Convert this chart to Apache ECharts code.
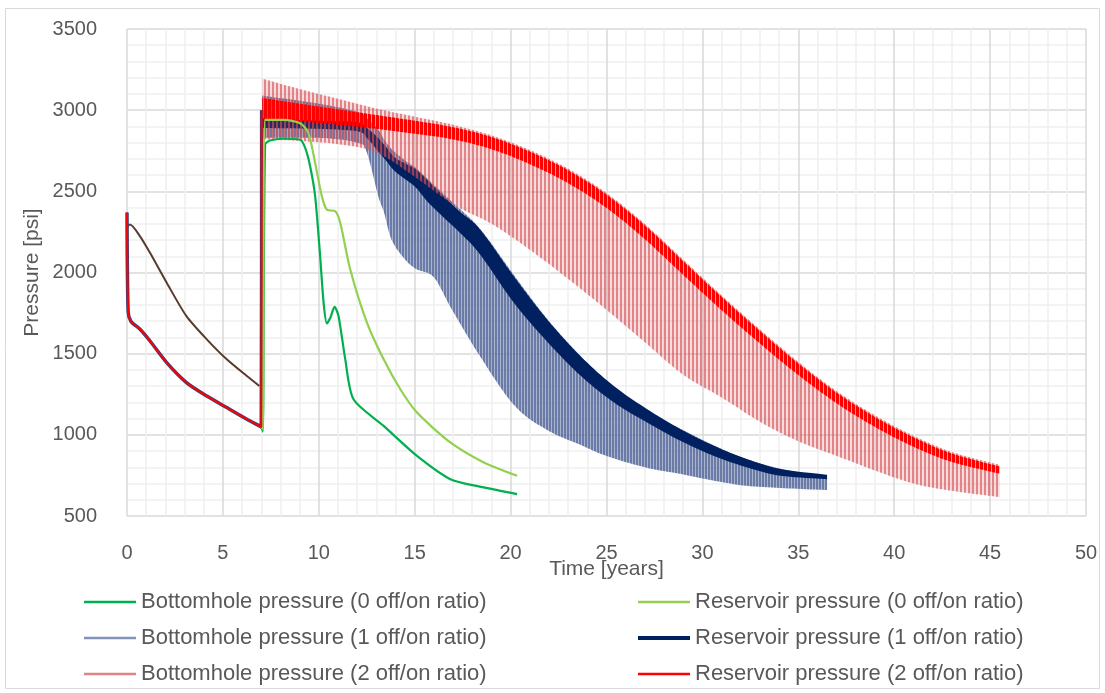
<!DOCTYPE html>
<html><head><meta charset="utf-8">
<script src="https://cdn.jsdelivr.net/npm/echarts@6/dist/echarts.min.js"></script>
<style>html,body{margin:0;padding:0;background:#fff;}#c{width:1105px;height:693px;}</style>
</head><body><div id="c"></div>
<script>
// ---------- DATA ----------
const xTicks = [0, 5, 10, 15, 20, 25, 30, 35, 40, 45, 50];
const yTicks = [500, 1000, 1500, 2000, 2500, 3000, 3500];
const names = [
  'Bottomhole pressure (0 off/on ratio)', 'Reservoir pressure (0 off/on ratio)',
  'Bottomhole pressure (1 off/on ratio)', 'Reservoir pressure (1 off/on ratio)',
  'Bottomhole pressure (2 off/on ratio)', 'Reservoir pressure (2 off/on ratio)'
];
// early (0-7 yr) period, all cases coincide
const earlyT  = [0, 0.06, 0.2, 0.68, 1.2, 2.07, 3.1, 4.16, 5.2, 6.25, 6.9, 7.0, 7.02];
const earlyBH = [2370, 1760, 1700, 1650, 1578, 1445, 1322, 1239, 1168, 1096, 1055, 1048, 3000];
const earlyResT = [0, 0.15, 0.68, 1.2, 2.07, 3.1, 4.16, 5.2, 6.25, 6.9];
const earlyRes  = [2280, 2295, 2223, 2121, 1937, 1731, 1588, 1465, 1362, 1301];
// 0 off/on ratio
const bh0T = [7.0, 7.08, 7.2, 7.46, 8.16, 9.03, 9.29, 9.55, 9.81, 10.07, 10.25, 10.42, 10.6, 10.82, 11.03, 11.38, 11.81, 13.38, 15.12, 16.86, 18.6, 20.34];
const bh0P = [1050, 1020, 2787, 2813, 2824, 2818, 2767, 2653, 2469, 2100, 1814, 1686, 1721, 1789, 1731, 1465, 1219, 1055, 870, 727, 676, 635];
const r0T = [7.0, 7.08, 7.2, 8.16, 9.03, 9.46, 9.81, 10.16, 10.42, 10.86, 11.12, 11.64, 12.51, 13.38, 14.25, 15.12, 16.86, 18.6, 20.34];
const r0P = [1050, 1035, 2940, 2940, 2920, 2859, 2674, 2469, 2387, 2377, 2305, 2018, 1691, 1465, 1281, 1137, 953, 830, 748];
// 1 off/on ratio (cycling: upper / lower envelopes of the oscillation)
const bh1T  = [7.0, 7.05, 10, 12, 12.5, 13.1, 13.4, 13.8, 14.5, 15.1, 16, 16.9, 18.4, 20.2, 21.9, 23.6, 25, 27, 28.9, 30.5, 32.3, 34.5, 36.5];
const bh1Hi = [1050, 3090, 3040, 2990, 2950, 2880, 2820, 2760, 2690, 2640, 2540, 2440, 2270, 1980, 1715, 1490, 1330, 1150, 1035, 940, 850, 780, 750];
const bh1Lo = [1050, 2830, 2830, 2800, 2740, 2470, 2370, 2200, 2080, 2020, 1970, 1780, 1485, 1180, 1030, 940, 870, 800, 758, 720, 686, 670, 660];
const r1T  = [7.0, 7.05, 10, 12, 12.5, 13, 13.5, 14, 15, 15.64, 16.5, 17.4, 18.42, 20.16, 21.9, 23.64, 25.38, 27.12, 28.86, 30.6, 32.34, 34.08, 36.5];
const r1Hi = [1055, 2950, 2935, 2925, 2890, 2840, 2775, 2705, 2640, 2572, 2470, 2370, 2264, 1977, 1711, 1485, 1301, 1158, 1035, 932, 850, 789, 754];
const r1Lo = [1045, 2890, 2885, 2870, 2830, 2760, 2690, 2620, 2530, 2440, 2340, 2240, 2110, 1815, 1575, 1365, 1200, 1076, 963, 870, 799, 748, 727];
// 2 off/on ratio
const bh2T  = [7.0, 7.05, 9, 11, 13, 15, 17, 19, 21, 23, 25, 27, 29, 31, 33, 35, 37, 39, 41, 43, 45.5];
const bh2Hi = [1050, 3195, 3130, 3070, 3010, 2960, 2910, 2845, 2755, 2640, 2490, 2300, 2080, 1860, 1650, 1450, 1270, 1120, 995, 895, 815];
const bh2Lo = [1050, 2820, 2810, 2790, 2740, 2590, 2420, 2300, 2140, 1960, 1770, 1570, 1370, 1230, 1080, 960, 870, 780, 700, 655, 617];
const r2T  = [7.0, 7.05, 9, 11, 13, 15, 17, 19, 21, 23, 25, 27, 29, 31, 33, 35, 37, 39, 41, 43, 45.5];
const r2Hi = [1060, 3075, 3040, 3005, 2970, 2935, 2895, 2835, 2745, 2630, 2480, 2290, 2070, 1850, 1640, 1440, 1260, 1110, 985, 885, 805];
const r2Lo = [1040, 2945, 2930, 2910, 2885, 2855, 2820, 2760, 2667, 2550, 2398, 2205, 1985, 1768, 1562, 1368, 1194, 1048, 927, 833, 760];

// ---------- helpers ----------
const FONT = '"Liberation Sans", Arial, sans-serif';
const TXT = '#595959';
function pairs(T, P) { return T.map((t, i) => [t, P[i]]); }
function stripes(parts) {
  const w = parts.reduce((s, p) => s + p[0], 0);
  const c = document.createElement('canvas'); c.width = w; c.height = 4;
  const ctx = c.getContext('2d'); let x = 0;
  parts.forEach(([pw, col]) => { ctx.fillStyle = col; ctx.fillRect(x, 0, pw, 4); x += pw; });
  return { image: c, repeat: 'repeat' };
}
// smooth a pixel polyline (Catmull-Rom with clamped control points, no overshoot)
function smoothPx(P) {
  const out = [P[0]];
  const clamp = (v, a, b) => Math.max(Math.min(a, b), Math.min(Math.max(a, b), v));
  for (let i = 0; i < P.length - 1; i++) {
    const p0 = P[Math.max(i - 1, 0)], p1 = P[i], p2 = P[i + 1], p3 = P[Math.min(i + 2, P.length - 1)];
    const c1 = [p1[0] + (p2[0] - p0[0]) / 6, clamp(p1[1] + (p2[1] - p0[1]) / 6, p1[1], p2[1])];
    const c2 = [p2[0] - (p3[0] - p1[0]) / 6, clamp(p2[1] - (p3[1] - p1[1]) / 6, p1[1], p2[1])];
    for (let k = 1; k <= 10; k++) {
      const t = k / 10, u = 1 - t;
      out.push([
        u * u * u * p1[0] + 3 * u * u * t * c1[0] + 3 * u * t * t * c2[0] + t * t * t * p2[0],
        u * u * u * p1[1] + 3 * u * u * t * c1[1] + 3 * u * t * t * c2[1] + t * t * t * p2[1]
      ]);
    }
  }
  return out;
}
function band(name, T, lo, hi, fill, color) {
  return {
    type: 'custom', name, data: T.map((t, i) => [t, lo[i], hi[i]]),
    encode: { x: 0, y: [1, 2] }, itemStyle: { color }, silent: true,
    renderItem(params, api) {
      if (params.dataIndex !== 0) return null;
      const up = [], dn = [];
      for (let i = 1; i < T.length; i++) { up.push(api.coord([T[i], hi[i]])); dn.push(api.coord([T[i], lo[i]])); }
      const pts = smoothPx(up).concat(smoothPx(dn).reverse());
      const jump = [api.coord([T[0], lo[0]]), api.coord([T[0], hi[0]]), api.coord([T[1], hi[1]]), api.coord([T[1], lo[1]])];
      return { type: 'group', children: [
        { type: 'polygon', shape: { points: jump }, style: { fill, stroke: null } },
        { type: 'polygon', shape: { points: pts }, style: { fill, stroke: null } }
      ] };
    }
  };
}
function line(name, data, color, width) {
  return { type: 'line', name, data, showSymbol: false, symbol: 'none', smooth: 0.25,
    lineStyle: { color, width }, itemStyle: { color }, silent: true };
}
const legendPos = [[79, 585], [633, 585], [79, 621], [633, 621], [79, 657], [633, 657]];
const legendH = [2.5, 2.5, 2.5, 4, 2.5, 2.5];
const axisLbl = { fontSize: 20, color: TXT, fontFamily: FONT, formatter: v => String(v) };

const chart = echarts.init(document.getElementById('c'), null, { renderer: 'canvas' });
chart.setOption({
  animation: false,
  backgroundColor: '#fff',
  graphic: [{ type: 'rect', shape: { x: 5.5, y: 8.5, width: 1094, height: 680 },
    style: { fill: 'none', stroke: '#d9d9d9', lineWidth: 1 }, silent: true, z: -1 }],
  grid: { left: 127, right: 19, top: 29, bottom: 177 },
  legend: names.map((n, i) => ({
    data: [n], left: legendPos[i][0], top: legendPos[i][1], icon: 'rect',
    itemWidth: 52, itemHeight: legendH[i], selectedMode: false,
    textStyle: { fontSize: 22, color: TXT, fontFamily: FONT, lineHeight: 24 }
  })),
  xAxis: {
    type: 'value', min: xTicks[0], max: xTicks[xTicks.length - 1], interval: 5,
    name: 'Time [years]', nameLocation: 'middle', nameGap: 43, nameMoveOverlap: false,
    nameTextStyle: { fontSize: 21, color: TXT, fontFamily: FONT },
    axisLine: { show: false }, axisTick: { show: false },
    axisLabel: Object.assign({ margin: 27 }, axisLbl),
    splitLine: { show: true, lineStyle: { color: '#d9d9d9', width: 1.5 } },
    minorTick: { show: false, splitNumber: 5 },
    minorSplitLine: { show: true, lineStyle: { color: '#efefef', width: 1.5 } }
  },
  yAxis: {
    type: 'value', min: yTicks[0], max: yTicks[yTicks.length - 1], interval: 500,
    name: 'Pressure [psi]', nameLocation: 'middle', nameGap: 84, nameMoveOverlap: false,
    nameTextStyle: { fontSize: 21, color: TXT, fontFamily: FONT },
    axisLine: { show: false }, axisTick: { show: false },
    axisLabel: Object.assign({ margin: 30 }, axisLbl),
    splitLine: { show: true, lineStyle: { color: '#d9d9d9', width: 1.5 } },
    minorTick: { show: false, splitNumber: 5 },
    minorSplitLine: { show: true, lineStyle: { color: '#efefef', width: 1.5 } }
  },
  series: [
    line('early reservoir', pairs(earlyResT, earlyRes), '#5a3a2c', 2),
    line('early bh under', pairs(earlyT, earlyBH), '#34427a', 3.5),
    line(names[0], pairs(bh0T, bh0P), '#00b050', 2.2),
    line(names[1], pairs(r0T, r0P), '#92d050', 2.2),
    band(names[2], bh1T, bh1Lo, bh1Hi, stripes([[2, 'rgba(85,105,155,0.88)'], [1, 'rgba(85,105,155,0.5)']]), '#8193b8'),
    band(names[3], r1T, r1Lo, r1Hi, '#002060', '#002060'),
    band(names[4], bh2T, bh2Lo, bh2Hi, stripes([[2, 'rgba(215,80,85,0.7)'], [2, 'rgba(215,80,85,0.2)']]), '#e08585'),
    band(names[5], r2T, r2Lo, r2Hi, stripes([[3, '#ff0000'], [1, 'rgba(255,0,0,0.3)']]), '#ff0000'),
    line('early bh', pairs(earlyT, earlyBH), '#ff0000', 2)
  ]
});
</script></body></html>
